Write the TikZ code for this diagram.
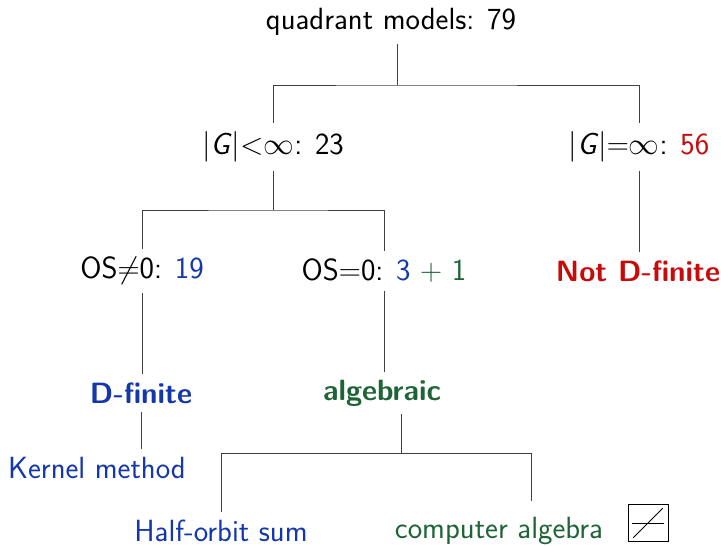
\RequirePackage{fix-cm}
\documentclass[tikz,border=0pt]{standalone}
\usepackage{amssymb}
\usepackage{xcolor}
\usepackage{tikz}
\usetikzlibrary{positioning}

\definecolor{dblue}{RGB}{20,55,170}
\definecolor{dgreen}{RGB}{30,100,55}
\definecolor{dred}{RGB}{200,10,10}

\begin{document}
\begin{tikzpicture}[x=0.75pt, y=-0.75pt]
        % label and connector styles
        \tikzstyle{lbl} = [font=\fontsize{23}{28}\selectfont\sffamily, inner sep=6pt]
        \tikzstyle{res} = [lbl, font=\fontsize{22}{27}\selectfont\sffamily\bfseries]
        \tikzstyle{edge} = [draw=black!75, line width=0.6pt]
        \useasboundingbox (0,0) rectangle (721,546);

        % Nodes of the tree
        \node (root) [lbl] at (391,22) {quadrant models: 79};
        \node (fin) [lbl] at (273,147) {$|\textsf{\textit{G}}|{<}\infty$: 23};
        \node (inf) [lbl] at (639,147) {$|\textsf{\textit{G}}|{=}\infty$: \textcolor{dred}{56}};
        \node (osn) [lbl] at (142,271) {OS${\neq}$0: \textcolor{dblue}{19}};
        \node (osz) [lbl] at (384,271) {OS${=}$0: \textcolor{dblue}{3} \textcolor{dgreen}{$+$ 1}};
        \node (notd) [res, text=dred] at (638,271) {Not D-finite};
        \node (dfin) [res, text=dblue] at (141,393) {D-finite};
        \node (alg) [res, text=dgreen] at (382,393) {algebraic};
        \node (kern) [lbl, text=dblue] at (97,468) {Kernel method};
        \node (half) [lbl, text=dblue] at (221,531) {Half-orbit sum};
        \node (comp) [lbl, text=dgreen] at (499,531) {computer algebra};
        \node (icon) [draw, line width=0.6pt, minimum width=30pt, minimum height=28pt, inner sep=0pt] at (648,523) {};

        % Junctions
        \coordinate (j1) at (397,85);
        \coordinate (j2) at (273,210);
        \coordinate (j3) at (401,453);
        \coordinate (j3r) at (531,453);

        % Connectors
        \draw [edge] (root.south -| j1) -- (j1);
        \draw [edge] (fin.north) |- (j1) -| (inf.north);
        \draw [edge] (fin.south) -- (j2);
        \draw [edge] (osn.north) |- (j2) -| (osz.north);
        \draw [edge] (inf.south) -- (inf.south |- notd.north);
        \draw [edge] (osn.south) -- (osn.south |- dfin.north);
        \draw [edge] (osz.south) -- (osz.south |- alg.north);
        \draw [edge] (dfin.south) -- (dfin.south |- kern.north);
        \draw [edge] (alg.south -| j3) -- (j3);
        \draw [edge] (half.north) |- (j3r) -- ([yshift=6pt]j3r |- comp.north);

        % Icon
        \draw [line width=0.6pt] ([xshift=-12pt]icon.center) -- ([xshift=12pt]icon.center);
        \draw [line width=0.6pt] ([shift={(-11pt,-11pt)}]icon.center) -- ([shift={(11pt,11pt)}]icon.center);
    \end{tikzpicture}
\end{document}
